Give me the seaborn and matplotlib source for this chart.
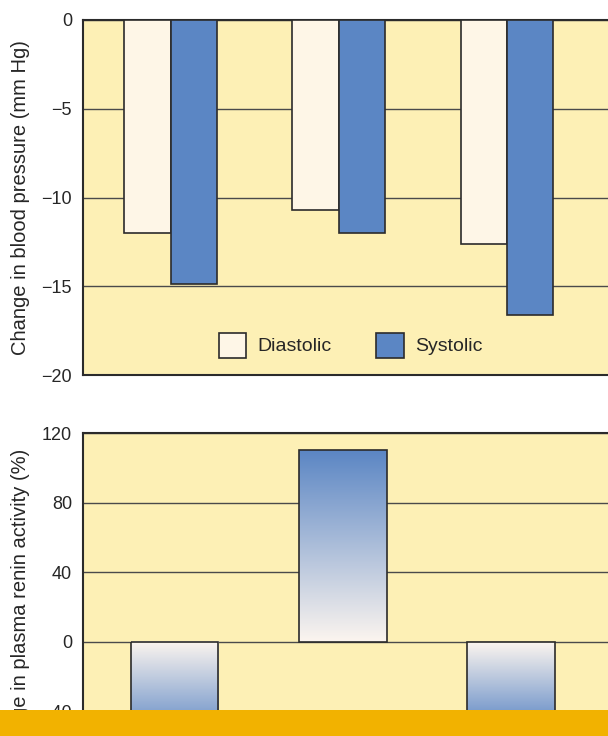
import numpy as np
import pandas as pd
import seaborn as sns
import matplotlib
matplotlib.use("Agg")
import matplotlib.pyplot as plt
from matplotlib.colors import LinearSegmentedColormap
from matplotlib.patches import Rectangle

# data
groups = ["A", "B", "C"]
diastolic = [-12.0, -10.7, -12.6]
systolic = [-14.9, -12.0, -16.6]
renin = [-55, 110, -50]

bp_ticks = [0, -5, -10, -15, -20]
renin_ticks = [120, 80, 40, 0, -40, -80]

bg = "#fdf0b5"
blue = "#5b86c4"
cream = "#fef6e7"
edge = "#2b2b2b"

sns.set_style("white")
plt.rcParams["font.family"] = ["Liberation Sans", "DejaVu Sans"]
plt.rcParams["font.size"] = 13

bp = pd.DataFrame({
    "group": groups * 2,
    "kind": ["Diastolic"] * 3 + ["Systolic"] * 3,
    "value": diastolic + systolic,
})
rn = pd.DataFrame({"group": groups, "value": renin})

fig = plt.figure(figsize=(6.08, 7.36), dpi=100)
ax1 = fig.add_axes([83 / 608, 361 / 736, 1 - 83 / 608, 355 / 736])
ax2 = fig.add_axes([83 / 608, -45 / 736, 1 - 83 / 608, 348 / 736])

# top panel: blood pressure
sns.barplot(data=bp, x="group", y="value", hue="kind", ax=ax1,
            palette={"Diastolic": cream, "Systolic": blue},
            width=0.55, edgecolor=edge, linewidth=1.2, saturation=1, zorder=3)
ax1.set_ylim(-20, 0)
ax1.set_yticks(bp_ticks)
ax1.set_ylabel("Change in blood pressure (mm Hg)", fontsize=14.5)
leg = ax1.legend(loc="lower center", bbox_to_anchor=(0.51, 0.0), ncol=2,
                 frameon=False, fontsize=14, handlelength=1.4, handleheight=1.6,
                 columnspacing=2.3, handletextpad=0.6)

# bottom panel: plasma renin activity
sns.barplot(data=rn, x="group", y="value", ax=ax2, color=blue,
            width=0.52, edgecolor=edge, linewidth=1.2, saturation=1, zorder=3)
grad = LinearSegmentedColormap.from_list("g", ["#fcf5ef", blue])
for bar in ax2.patches:
    x0, w, h = bar.get_x(), bar.get_width(), bar.get_height()
    bar.set_facecolor("none")
    bar.set_zorder(4)
    ax2.imshow(np.linspace(0, 1, 256).reshape(-1, 1), cmap=grad,
               extent=[x0, x0 + w, 0, h], origin="lower", aspect="auto",
               zorder=3)
ax2.set_ylim(-80, 120)
ax2.set_yticks(renin_ticks)
ax2.set_ylabel("Change in plasma renin activity (%)", fontsize=14.5)

ax1.set_xlim(-0.52, 2.6)
ax2.set_xlim(-0.545, 2.575)
for ax in (ax1, ax2):
    ax.set_facecolor(bg)
    ax.set_xlabel("")
    ax.set_xticks([])
    ax.set_axisbelow(True)
    ax.grid(axis="y", color="#4a4a4a", linewidth=1.0)
    ax.tick_params(axis="y", length=0, pad=8, labelsize=13)
    ax.yaxis.labelpad = 8
    ax.spines["right"].set_visible(False)
    for s in ("left", "top", "bottom"):
        ax.spines[s].set_color(edge)
        ax.spines[s].set_linewidth(1.5)

# orange strip across the bottom
fig.add_artist(Rectangle((0, 0), 1, 26 / 736, transform=fig.transFigure,
                         facecolor="#f2b200", edgecolor="none", zorder=10))

fig.savefig("out.png", dpi=100, facecolor="white")
